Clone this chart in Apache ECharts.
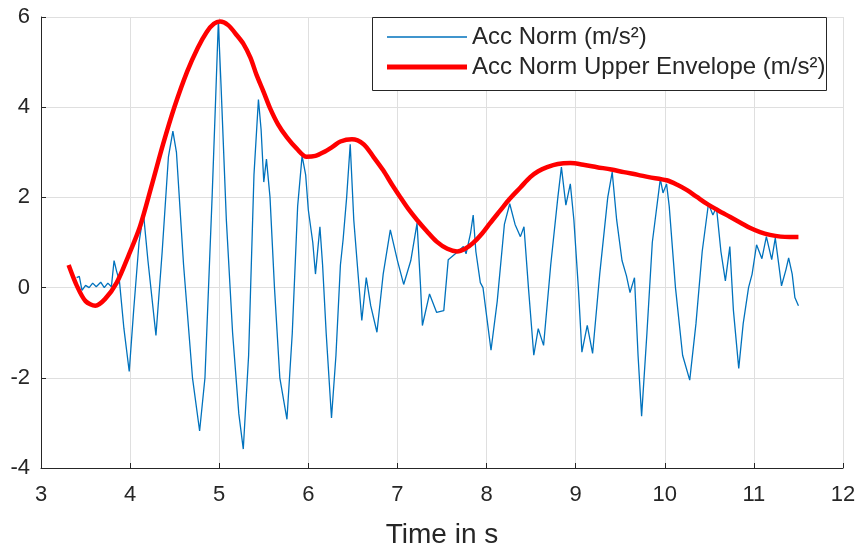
<!DOCTYPE html>
<html>
<head>
<meta charset="utf-8">
<script src="https://cdn.jsdelivr.net/npm/echarts@6/dist/echarts.min.js"></script>
<style>
html,body{margin:0;padding:0;background:#fff;}
#chart{width:859px;height:554px;}
</style>
</head>
<body>
<div id="chart"></div>
<script>
// ---- data ----
var xTicks = [3, 4, 5, 6, 7, 8, 9, 10, 11, 12];
var yTicks = [-4, -2, 0, 2, 4, 6];
var seriesNames = ['Acc Norm (m/s²)', 'Acc Norm Upper Envelope (m/s²)'];
var xAxisTitle = 'Time in s';

var accTime = [3.40,3.43,3.46,3.50,3.54,3.58,3.62,3.67,3.71,3.75,3.79,3.82,3.85,3.88,3.93,3.99,4.04,4.10,4.15,4.20,4.29,4.36,4.43,4.48,4.52,4.60,4.70,4.78,4.84,4.92,4.96,4.99,5.02,5.08,5.15,5.22,5.27,5.33,5.39,5.44,5.47,5.50,5.53,5.57,5.62,5.68,5.76,5.82,5.88,5.93,5.97,6.00,6.05,6.08,6.13,6.16,6.20,6.26,6.31,6.36,6.39,6.43,6.47,6.51,6.55,6.60,6.65,6.70,6.77,6.84,6.92,7.00,7.07,7.15,7.22,7.26,7.28,7.36,7.44,7.52,7.57,7.65,7.74,7.77,7.82,7.85,7.88,7.93,7.96,8.05,8.12,8.20,8.26,8.32,8.38,8.42,8.47,8.53,8.58,8.64,8.72,8.80,8.84,8.89,8.94,8.98,9.03,9.07,9.13,9.19,9.27,9.36,9.41,9.46,9.52,9.57,9.61,9.66,9.70,9.74,9.80,9.86,9.95,9.98,10.02,10.05,10.12,10.20,10.28,10.35,10.42,10.49,10.54,10.58,10.63,10.68,10.73,10.77,10.83,10.88,10.94,10.98,11.03,11.09,11.14,11.20,11.24,11.28,11.31,11.36,11.39,11.43,11.46,11.48,11.50];
var accNorm = [0.22,0.25,-0.06,0.05,0.00,0.10,0.02,0.12,0.00,0.10,0.02,0.60,0.35,0.15,-0.9,-1.86,-0.5,1.0,1.64,0.6,-1.06,0.8,2.9,3.47,3.0,0.5,-2.0,-3.18,-2.0,2.0,4.2,5.89,4.5,1.5,-1.0,-2.8,-3.58,-1.5,2.5,4.17,3.5,2.34,2.85,2.0,0.0,-2.0,-2.92,-1.0,1.8,2.92,2.5,1.72,1.0,0.3,1.35,0.5,-1.0,-2.89,-1.5,0.5,1.06,2.0,3.18,1.5,0.5,-0.73,0.22,-0.4,-0.99,0.3,1.28,0.6,0.07,0.6,1.43,0.0,-0.84,-0.14,-0.55,-0.51,0.62,0.75,0.91,0.75,1.2,1.61,0.8,0.11,0.0,-1.39,-0.3,1.4,1.86,1.4,1.13,1.35,0.0,-1.5,-0.91,-1.28,0.5,2.0,2.67,1.83,2.3,1.5,0.0,-1.43,-0.84,-1.46,0.3,2.0,2.56,1.5,0.6,0.26,-0.11,0.22,-1.5,-2.85,-1.0,1.0,2.41,2.1,2.3,1.8,0.0,-1.5,-2.05,-0.8,0.8,1.86,1.61,1.78,0.8,0.15,0.91,-0.5,-1.79,-0.8,0.0,0.3,0.95,0.64,1.13,0.62,1.10,0.5,0.04,0.4,0.66,0.3,-0.22,-0.25,-0.40];

var envTime = [3.31,3.40,3.50,3.61,3.72,3.85,3.98,4.11,4.24,4.37,4.50,4.64,4.76,4.86,4.94,5.01,5.10,5.20,5.27,5.35,5.42,5.50,5.57,5.66,5.76,5.87,5.98,6.08,6.17,6.27,6.36,6.49,6.62,6.73,6.84,6.94,7.03,7.12,7.22,7.33,7.44,7.56,7.67,7.76,7.85,7.95,8.04,8.15,8.26,8.38,8.49,8.58,8.68,8.80,8.94,9.10,9.24,9.40,9.54,9.70,9.82,10.02,10.14,10.25,10.36,10.47,10.60,10.73,10.85,10.96,11.07,11.18,11.30,11.40,11.50];
var envNorm = [0.50,0.05,-0.30,-0.40,-0.25,0.11,0.70,1.35,2.25,3.18,4.02,4.79,5.32,5.67,5.85,5.90,5.82,5.59,5.41,5.10,4.71,4.33,3.98,3.62,3.33,3.08,2.90,2.92,3.00,3.12,3.24,3.29,3.18,2.90,2.60,2.28,2.01,1.75,1.50,1.25,1.02,0.86,0.80,0.86,0.99,1.20,1.43,1.70,1.97,2.22,2.45,2.58,2.67,2.74,2.76,2.72,2.67,2.62,2.56,2.50,2.45,2.38,2.28,2.16,2.01,1.86,1.71,1.57,1.44,1.32,1.23,1.17,1.13,1.12,1.12];

function zip(a, b) { return a.map(function (v, i) { return [v, b[i]]; }); }

var FONT = '"Liberation Sans", Arial, Helvetica, sans-serif';
var TXT = '#262626';
var GRIDC = '#dfdfdf';
var BLUE = '#0072BD';
var RED = '#ff0000';

var chart = echarts.init(document.getElementById('chart'), null, {renderer: 'canvas'});
chart.setOption({
  animation: false,
  backgroundColor: '#ffffff',
  textStyle: {fontFamily: FONT},
  grid: {left: 41, right: 16, top: 17, bottom: 81, containLabel: false},
  xAxis: {
    type: 'value',
    min: xTicks[0], max: xTicks[xTicks.length - 1], interval: 1,
    name: xAxisTitle, nameLocation: 'middle', nameGap: 53,
    nameTextStyle: {color: TXT, fontSize: 28, fontFamily: FONT},
    axisLine: {show: true, onZero: false, lineStyle: {color: TXT, width: 1}},
    axisTick: {show: true, inside: true, length: 5, lineStyle: {color: TXT}},
    axisLabel: {color: TXT, fontSize: 22, margin: 16, fontFamily: FONT},
    splitLine: {show: true, lineStyle: {color: GRIDC, width: 1}}
  },
  yAxis: {
    type: 'value',
    min: yTicks[0], max: yTicks[yTicks.length - 1], interval: 2,
    axisLine: {show: true, onZero: false, lineStyle: {color: TXT, width: 1}},
    axisTick: {show: true, inside: true, length: 5, lineStyle: {color: TXT}},
    axisLabel: {color: TXT, fontSize: 22, margin: 11, fontFamily: FONT},
    splitLine: {show: true, lineStyle: {color: GRIDC, width: 1}}
  },
  legend: [
    {
      orient: 'vertical', left: 387, top: 25, padding: 0,
      itemWidth: 80, itemHeight: 1.6, icon: 'rect',
      textStyle: {color: TXT, fontSize: 24, fontFamily: FONT},
      data: [{name: seriesNames[0], icon: 'rect', itemStyle: {color: BLUE}}],
      z: 5
    },
    {
      orient: 'vertical', left: 387, top: 55, padding: 0,
      itemWidth: 80, itemHeight: 5, icon: 'rect',
      textStyle: {color: TXT, fontSize: 24, fontFamily: FONT},
      data: [{name: seriesNames[1], icon: 'rect', itemStyle: {color: RED}}],
      z: 5
    }
  ],
  graphic: [{
    type: 'rect', z: 4,
    shape: {x: 372.5, y: 17.5, width: 454, height: 73},
    style: {fill: '#ffffff', stroke: TXT, lineWidth: 1}
  }],
  series: [
    {
      name: seriesNames[0], type: 'line', data: zip(accTime, accNorm),
      symbol: 'none', showSymbol: false,
      lineStyle: {color: BLUE, width: 1.3},
      itemStyle: {color: BLUE}, z: 2
    },
    {
      name: seriesNames[1], type: 'line', data: zip(envTime, envNorm),
      symbol: 'none', showSymbol: false, smooth: 0.3,
      lineStyle: {color: RED, width: 4.5},
      itemStyle: {color: RED}, z: 3
    }
  ]
});
</script>
</body>
</html>
